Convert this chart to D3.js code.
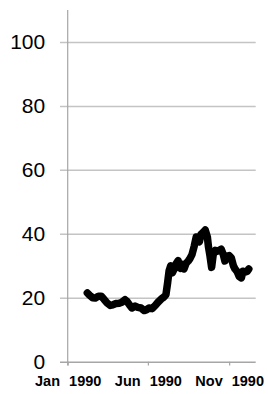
<!DOCTYPE html>
<html><head><meta charset="utf-8">
<script src="https://cdn.jsdelivr.net/npm/d3@7/dist/d3.min.js"></script>
<style>
html,body{margin:0;padding:0;background:#fff;}
svg{display:block;}
</style></head>
<body>
<svg id="chart" width="268" height="394"></svg>
<script>
// ---- data ----
const dates = ["1990-02-07","1990-02-11","1990-02-17","1990-02-22","1990-02-28","1990-03-05","1990-03-10","1990-03-16","1990-03-22","1990-03-27",
"1990-04-02","1990-04-08","1990-04-13","1990-04-19","1990-04-23","1990-04-28","1990-05-02","1990-05-08","1990-05-13","1990-05-19",
"1990-05-25","1990-05-29","1990-06-03","1990-06-09","1990-06-15","1990-06-20","1990-06-26","1990-07-01","1990-07-05","1990-07-08",
"1990-07-11","1990-07-14","1990-07-17","1990-07-20","1990-07-24","1990-07-28","1990-08-01","1990-08-04","1990-08-08","1990-08-12",
"1990-08-16","1990-08-19","1990-08-23","1990-08-27","1990-08-31","1990-09-04","1990-09-06","1990-09-09","1990-09-13","1990-09-17",
"1990-09-21","1990-09-23","1990-09-26","1990-09-29","1990-10-02","1990-10-06","1990-10-09","1990-10-13","1990-10-17","1990-10-21",
"1990-10-24","1990-10-28","1990-11-01","1990-11-05","1990-11-09","1990-11-12","1990-11-16","1990-11-20","1990-11-24","1990-11-27",
"1990-12-01","1990-12-05","1990-12-08"];
const prices = [21.5,20.8,20.0,19.9,20.5,20.5,19.6,18.4,17.6,17.8,
18.2,18.3,18.6,19.4,18.8,17.6,16.8,17.4,17.0,16.8,
16.0,16.2,16.8,16.6,17.6,18.6,19.6,20.2,21.0,24.5,
28.5,30.0,27.8,28.8,30.6,31.6,29.2,30.5,29.0,30.8,
31.5,32.2,33.5,36.0,39.0,38.6,37.5,39.8,40.5,41.2,
39.0,36.0,33.0,29.5,33.5,34.8,34.5,34.8,35.2,33.5,
31.5,32.8,33.2,32.5,30.0,29.0,28.2,26.6,26.2,28.3,
28.0,28.3,29.0];
const yTicks = [0,20,40,60,80,100];
const xTickDates = ["1990-01-01","1990-06-01","1990-11-01"];
const xTickLabels = ["Jan 1990","Jun 1990","Nov 1990"];

// ---- layout ----
const parse = d3.timeParse("%Y-%m-%d");
const svg = d3.select("#chart");
const mLeft = 67.7, mRight = 255.7, mTop = 10, mBottom = 361.7;

const x = d3.scaleTime().domain([parse("1990-01-01"), parse("1990-12-21")]).range([mLeft, mRight]);
const y = d3.scaleLinear().domain([0, 110]).range([mBottom, mTop]);

// y axis with gridlines
const gy = svg.append("g").attr("transform", `translate(${mLeft},0)`)
  .call(d3.axisLeft(y).tickValues(yTicks).tickSizeInner(-(mRight-mLeft)).tickSizeOuter(0).tickFormat(d3.format("d")));
gy.select(".domain").remove();
gy.selectAll(".tick line").attr("x1", -7.7).attr("x2", mRight-mLeft)
  .attr("stroke", d => d === 0 ? "#a6a6a6" : "#c4c4c4").attr("stroke-width", 1.5);
gy.selectAll(".tick text").attr("x", -22.5).attr("dy", "0.32em")
  .attr("font-family", "Liberation Sans, Arial, sans-serif").attr("font-size", 21).attr("fill", "#000");

// vertical axis line
svg.append("line").attr("x1", mLeft).attr("x2", mLeft).attr("y1", mTop).attr("y2", mBottom + 3.8)
  .attr("stroke", "#a6a6a6").attr("stroke-width", 1.2);

// x axis
const gx = svg.append("g").attr("transform", `translate(0,${mBottom})`)
  .call(d3.axisBottom(x).tickValues(xTickDates.map(parse)).tickSize(3.8).tickFormat((d,i) => xTickLabels[i]));
gx.select(".domain").remove();
gx.selectAll(".tick line").attr("stroke", "#a6a6a6").attr("stroke-width", 1.2);
gx.selectAll(".tick text").attr("y", 24.8).attr("dy", 0)
  .attr("font-family", "Liberation Sans, Arial, sans-serif").attr("font-size", 14.5).attr("font-weight", "bold")
  .attr("fill", "#000").style("word-spacing", "5px");

// line
const data = dates.map((d,i) => ({date: parse(d), v: prices[i]}));
svg.append("path").datum(data)
  .attr("fill", "none").attr("stroke", "#000").attr("stroke-width", 7.5)
  .attr("stroke-linejoin", "round").attr("stroke-linecap", "round")
  .attr("d", d3.line().x(d => x(d.date)).y(d => y(d.v)));
</script>
</body></html>
